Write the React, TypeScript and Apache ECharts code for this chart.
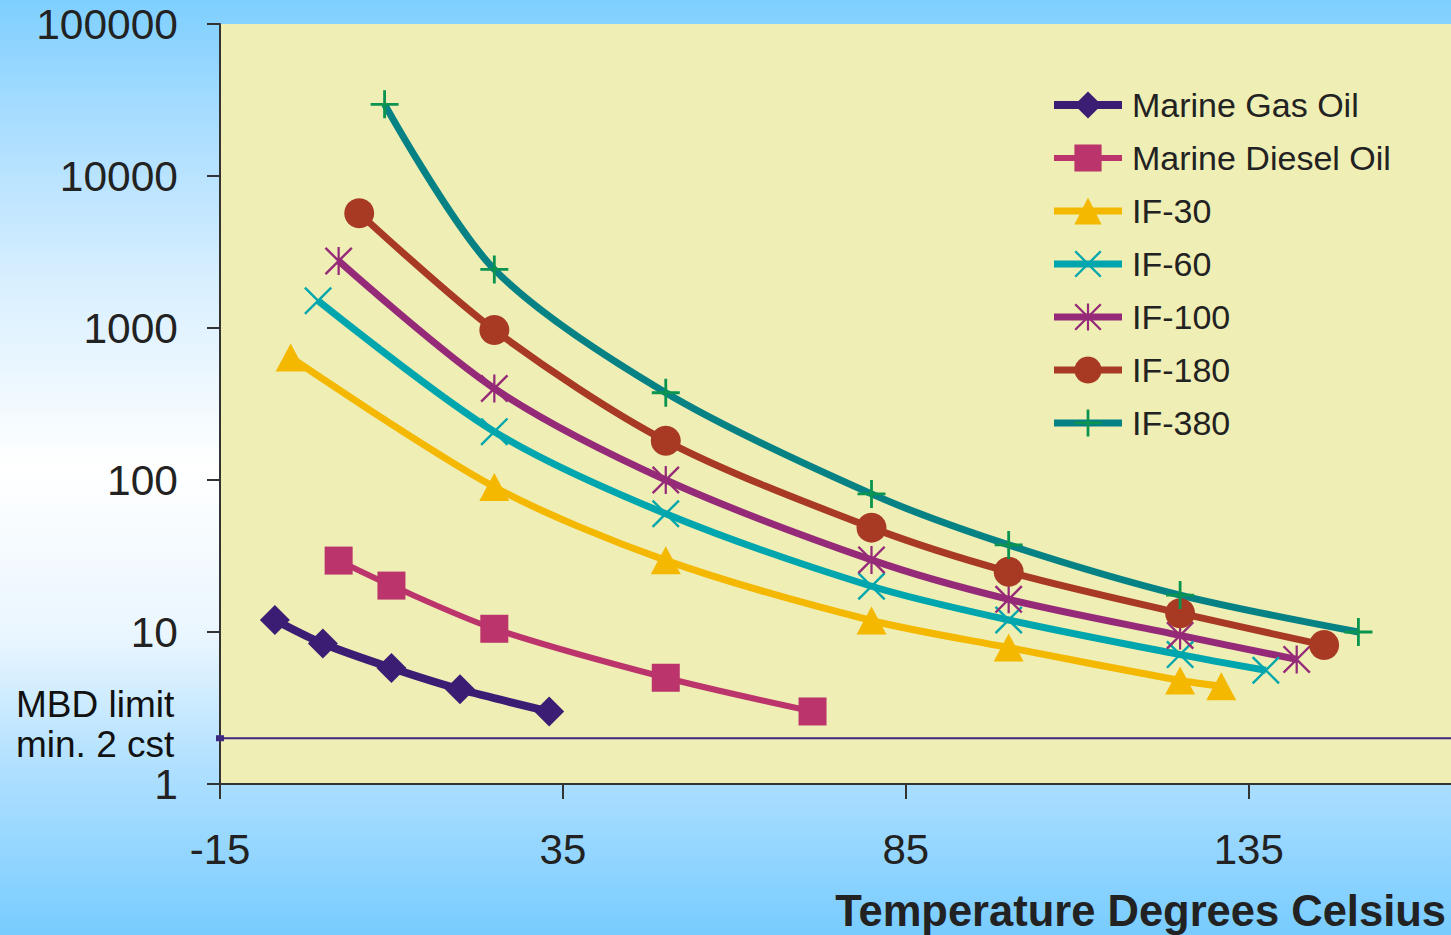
import React, { useEffect, useRef } from "react";
import * as echarts from "echarts";

// ---- data ----
const seriesNames = [
  "Marine Gas Oil",
  "Marine Diesel Oil",
  "IF-30",
  "IF-60",
  "IF-100",
  "IF-180",
  "IF-380",
];

const mgoTemp = [-7, 0, 10, 20, 33];
const mgoVisc = [12, 8.4, 5.8, 4.2, 3];

const mdoTemp = [2.3, 10, 25, 50, 71.4];
const mdoVisc = [29.5, 20.2, 10.5, 5, 3];

const if30Temp = [-4.7, 25, 50, 80, 100, 125, 131];
const if30Visc = [640, 90, 29.6, 11.9, 7.9, 4.8, 4.4];

const if60Temp = [-0.7, 25, 50, 80, 100, 125, 137.5];
const if60Visc = [1510, 208, 60, 20, 12, 7.1, 5.6];

const if100Temp = [2.3, 25, 50, 80, 100, 125, 142];
const if100Visc = [2760, 400, 100, 29.8, 16.4, 9.5, 6.6];

const if180Temp = [5.3, 25, 50, 80, 100, 125, 146];
const if180Visc = [5690, 970, 181, 48.6, 24.9, 13.3, 8.2];

const if380Temp = [9, 25, 50, 80, 100, 125, 151];
const if380Visc = [29600, 2430, 375, 81, 37.4, 17.5, 10];

const mbdLimit = 2;
const xTickValues = [-15, 35, 85, 135];
const xMin = -15;
const xMax = 164.5;
const yMin = 1;
const yMax = 100000;

const FONT = "'Liberation Sans', Arial, sans-serif";

const SYM_X =
  "path://M0,6 L6,0 L100,94 L94,100 Z M94,0 L100,6 L6,100 L0,94 Z";
const SYM_STAR =
  "path://M0,6 L6,0 L100,94 L94,100 Z M94,0 L100,6 L6,100 L0,94 Z M46,0 L54,0 L54,100 L46,100 Z";
const SYM_PLUS =
  "path://M45,0 L55,0 L55,100 L45,100 Z M0,45 L100,45 L100,55 L0,55 Z";

function pairs(t: number[], v: number[]) {
  return t.map((x, i) => [x, v[i]]);
}

function mk(
  name: string,
  t: number[],
  v: number[],
  color: string,
  lineColor: string,
  symbol: string,
  size: number | number[],
  width: number
) {
  return {
    name,
    type: "line",
    data: pairs(t, v),
    smooth: 0.3,
    symbol,
    symbolSize: size,
    showSymbol: true,
    itemStyle: { color },
    lineStyle: { color: lineColor, width },
    emphasis: { disabled: true },
  };
}

export default function App() {
  const ref = useRef<HTMLDivElement>(null);

  useEffect(() => {
    document.body.style.margin = "0";
    if (!ref.current) return;
    const chart = echarts.init(ref.current, undefined, { renderer: "svg" });

    const series: any[] = [
      {
        name: "MBD limit",
        type: "line",
        data: [
          { value: [xMin, mbdLimit], symbol: "rect", symbolSize: [8, 6] },
          { value: [xMax, mbdLimit], symbol: "none" },
        ],
        itemStyle: { color: "#3d2a80" },
        lineStyle: { color: "#3d2a80", width: 2 },
        emphasis: { disabled: true },
        z: 1,
      },
      mk(seriesNames[0], mgoTemp, mgoVisc, "#3b1e74", "#3b1e74", "diamond", 30, 8),
      mk(seriesNames[1], mdoTemp, mdoVisc, "#bb346c", "#bb346c", "rect", 28, 6),
      mk(seriesNames[2], if30Temp, if30Visc, "#f4b800", "#f4b800", "triangle", [30, 28], 7),
      mk(seriesNames[3], if60Temp, if60Visc, "#00a6ad", "#00a6ad", SYM_X, 28, 7),
      mk(seriesNames[4], if100Temp, if100Visc, "#952a78", "#952a78", SYM_STAR, 28, 7),
      mk(seriesNames[5], if180Temp, if180Visc, "#a83a24", "#a83a24", "circle", 30, 7),
      mk(seriesNames[6], if380Temp, if380Visc, "#0a9450", "#068285", SYM_PLUS, 28, 7),
    ];

    chart.setOption({
      animation: false,
      backgroundColor: "transparent",
      textStyle: { fontFamily: FONT },
      grid: {
        left: 220,
        top: 24,
        right: 0,
        bottom: 151,
        show: true,
        backgroundColor: "#efeeb4",
        borderWidth: 0,
      },
      legend: {
        data: seriesNames,
        orient: "vertical",
        left: 1050,
        top: 88,
        padding: 0,
        itemWidth: 68,
        itemHeight: 34,
        itemGap: 19,
        lineStyle: { width: "inherit" },
        textStyle: {
          fontSize: 34,
          color: "#222",
          fontFamily: FONT,
          padding: [0, 0, 0, 5],
        },
        selectedMode: false,
      },
      xAxis: {
        type: "value",
        min: xMin,
        max: xMax,
        interval: 50,
        splitLine: { show: false },
        axisLine: { show: true, onZero: false, lineStyle: { color: "#333", width: 2 } },
        axisTick: {
          show: true,
          length: 15,
          lineStyle: { color: "#333", width: 2 },
          customValues: xTickValues,
        },
        axisLabel: {
          fontSize: 42,
          color: "#222",
          margin: 44,
          fontFamily: FONT,
          customValues: xTickValues,
        },
      },
      yAxis: {
        type: "log",
        logBase: 10,
        min: yMin,
        max: yMax,
        splitLine: { show: false },
        axisLine: { show: true, onZero: false, lineStyle: { color: "#333", width: 2 } },
        axisTick: { show: true, length: 13, lineStyle: { color: "#333", width: 2 } },
        axisLabel: {
          fontSize: 42.5,
          color: "#222",
          margin: 42,
          fontFamily: FONT,
          formatter: (v: number) => String(Math.round(v)),
        },
      },
      graphic: [
        {
          type: "text",
          left: 16,
          top: 684,
          style: {
            text: "MBD limit\nmin. 2 cst",
            font: `37px ${FONT}`,
            lineHeight: 40,
            fill: "#111",
          },
        },
        {
          type: "text",
          x: 1446,
          y: 911,
          style: {
            text: "Temperature Degrees Celsius",
            font: `bold 43.5px ${FONT}`,
            fill: "#222",
            textAlign: "right",
            textVerticalAlign: "middle",
          },
        },
      ],
      series,
    });

    return () => chart.dispose();
  }, []);

  return (
    <div
      ref={ref}
      style={{
        width: 1451,
        height: 935,
        background:
          "linear-gradient(to bottom, #7ecfff 0%, #a6dcff 12%, #d8efff 30%, #ffffff 50%, #eaf6ff 68%, #b0e0ff 82%, #78ccff 100%)",
      }}
    />
  );
}
